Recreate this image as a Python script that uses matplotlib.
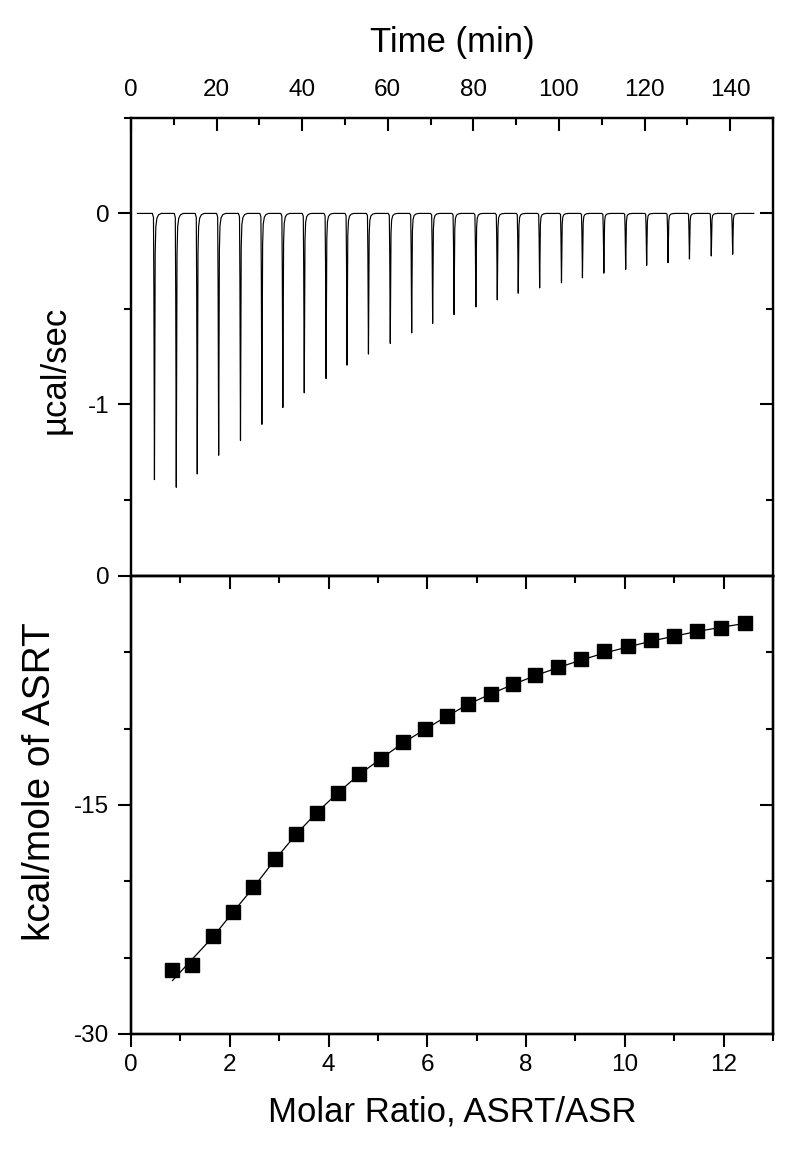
import matplotlib
matplotlib.use('Agg')
import matplotlib.pyplot as plt
from matplotlib.ticker import MultipleLocator

plt.rcParams['font.family'] = ['Liberation Sans', 'DejaVu Sans']
plt.rcParams['axes.unicode_minus'] = False

# raw thermogram: injection times (min) and peak heights (ucal/sec)
inj_time = [5.4, 10.5, 15.4, 20.4, 25.5, 30.5, 35.4, 40.4, 45.5, 50.4,
            55.4, 60.5, 65.5, 70.4, 75.4, 80.5, 85.5, 90.4, 95.4, 100.5,
            105.4, 110.4, 115.5, 120.4, 125.4, 130.4, 135.5, 140.5]
inj_peak = [-1.395, -1.435, -1.365, -1.267, -1.19, -1.105, -1.017, -0.94,
            -0.865, -0.795, -0.737, -0.681, -0.626, -0.576, -0.53, -0.49,
            -0.453, -0.418, -0.39, -0.363, -0.337, -0.313, -0.293, -0.272,
            -0.258, -0.239, -0.223, -0.214]

# integrated heats
ratio = [0.84, 1.24, 1.67, 2.07, 2.48, 2.91, 3.35, 3.76, 4.19, 4.62, 5.07,
         5.50, 5.95, 6.39, 6.83, 7.29, 7.74, 8.19, 8.65, 9.12, 9.58, 10.06,
         10.53, 11.0, 11.47, 11.95, 12.44]
heat = [-25.8, -25.45, -23.57, -22.0, -20.4, -18.55, -16.9, -15.5, -14.2,
        -12.98, -11.96, -10.9, -10.04, -9.17, -8.39, -7.73, -7.08, -6.51,
        -5.99, -5.46, -4.94, -4.59, -4.2, -3.9, -3.6, -3.4, -3.11]
fit = [-26.5, -25.1, -23.6, -22.0, -20.4, -18.6, -16.9, -15.5, -14.2, -13.0,
       -11.95, -10.95, -10.05, -9.2, -8.4, -7.72, -7.1, -6.52, -6.0, -5.5,
       -5.05, -4.65, -4.27, -3.94, -3.63, -3.36, -3.1]

# shape of one injection peak (relative time, fraction of peak height)
shape_t = [-0.4, -0.15, -0.05, 0.08, 0.25, 0.4, 0.65, 1.05, 1.7]
shape_f = [0.0, 0.015, 0.3, 1.0, 0.15, 0.05, 0.018, 0.005, 0.0]

tt = [1.5]
yy = [0.0]
for t0, p in zip(inj_time, inj_peak):
    for dt, f in zip(shape_t, shape_f):
        tt.append(t0 + dt)
        yy.append(p * f)
tt.append(145.5)
yy.append(0.0)

fig = plt.figure(figsize=(8, 11.6), dpi=100)
W, H = 800.0, 1160.0
ax1 = fig.add_axes([131 / W, 1 - 576 / H, 642 / W, 458 / H])
ax2 = fig.add_axes([131 / W, 1 - 1034 / H, 642 / W, 458 / H])

lw = 1.6
tsize = 17.5
maj = dict(length=9.5, width=1.5)
mnr = dict(length=5, width=1.5)

# --- top panel
ax1.plot(tt, yy, color='black', lw=0.85)
ax1.set_xlim(0, 150)
ax1.set_ylim(-1.9, 0.5)
ax1.xaxis.set_major_locator(MultipleLocator(20))
ax1.xaxis.set_minor_locator(MultipleLocator(10))
ax1.yaxis.set_major_locator(MultipleLocator(1))
ax1.yaxis.set_minor_locator(MultipleLocator(0.5))
ax1.tick_params(axis='x', which='both', top=True, bottom=False, labeltop=True,
                labelbottom=False, direction='in', pad=12, labelsize=tsize)
ax1.tick_params(axis='x', which='major', **maj)
ax1.tick_params(axis='x', which='minor', **mnr)
ax1.tick_params(axis='y', which='both', left=True, right=False, direction='out',
                labelsize=tsize, pad=6)
ax1.tick_params(axis='y', which='major', **maj)
ax1.tick_params(axis='y', which='minor', **mnr)
ax1.set_yticks([0, -1])
ax1.set_yticklabels(['0', '-1'])
ax1.xaxis.set_label_position('top')
ax1.set_xlabel('Time (min)', fontsize=25, labelpad=20)
ax1.set_ylabel('\u00b5cal/sec', fontsize=25)
ax1.yaxis.set_label_coords(-0.092, 0.45)

ax1r = ax1.twinx()
ax1r.set_ylim(ax1.get_ylim())
ax1r.yaxis.set_major_locator(MultipleLocator(1))
ax1r.yaxis.set_minor_locator(MultipleLocator(0.5))
ax1r.tick_params(axis='y', which='both', direction='in', labelright=False)
ax1r.tick_params(axis='y', which='major', **maj)
ax1r.tick_params(axis='y', which='minor', **mnr)

# --- bottom panel
ax2.plot(ratio, fit, color='black', lw=0.9, zorder=2)
ax2.plot(ratio, heat, linestyle='none', marker='s', markersize=9.6,
         color='black', zorder=3)
ax2.set_xlim(0, 13)
ax2.set_ylim(-30, 0)
ax2.xaxis.set_major_locator(MultipleLocator(2))
ax2.xaxis.set_minor_locator(MultipleLocator(1))
ax2.set_yticks([0, -15, -30])
ax2.yaxis.set_minor_locator(MultipleLocator(5))
ax2.tick_params(axis='x', which='both', bottom=True, top=False, direction='out',
                labelsize=tsize, pad=5)
ax2.tick_params(axis='x', which='major', **maj)
ax2.tick_params(axis='x', which='minor', **mnr)
ax2.tick_params(axis='y', which='both', left=True, right=False, direction='out',
                labelsize=tsize, pad=6)
ax2.tick_params(axis='y', which='major', **maj)
ax2.tick_params(axis='y', which='minor', **mnr)
ax2.set_xlabel('Molar Ratio, ASRT/ASR', fontsize=25, labelpad=14)
ax2.set_ylabel('kcal/mole of ASRT', fontsize=28)
ax2.yaxis.set_label_coords(-0.114, 0.55)

ax2r = ax2.twinx()
ax2r.set_ylim(ax2.get_ylim())
ax2r.set_yticks([0, -15, -30])
ax2r.yaxis.set_minor_locator(MultipleLocator(5))
ax2r.tick_params(axis='y', which='both', direction='in', labelright=False)
ax2r.tick_params(axis='y', which='major', **maj)
ax2r.tick_params(axis='y', which='minor', **mnr)

ax2t = ax2.twiny()
ax2t.set_xlim(ax2.get_xlim())
ax2t.xaxis.set_major_locator(MultipleLocator(2))
ax2t.xaxis.set_minor_locator(MultipleLocator(1))
ax2t.tick_params(axis='x', which='both', direction='in', labeltop=False)
ax2t.tick_params(axis='x', which='major', **maj)
ax2t.tick_params(axis='x', which='minor', **mnr)

for a in (ax1, ax2, ax1r, ax2r, ax2t):
    for s in a.spines.values():
        s.set_linewidth(lw)

fig.savefig('out.png', dpi=100, facecolor='white')
